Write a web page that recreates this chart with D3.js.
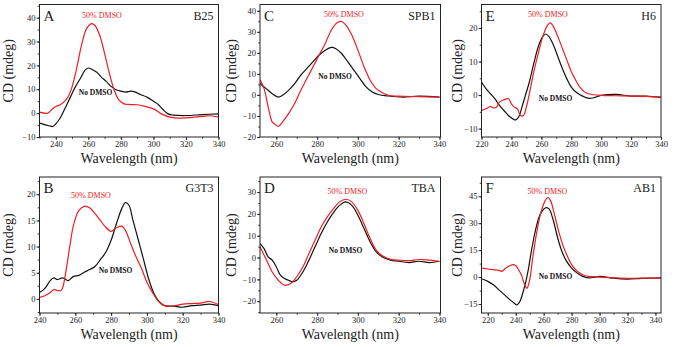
<!DOCTYPE html>
<html>
<head>
<meta charset="utf-8">
<script src="https://cdn.jsdelivr.net/npm/d3@7/dist/d3.min.js"></script>
<style>
body { margin: 0; background: #fff; }
svg text { font-family: "Liberation Serif", "Times New Roman", "DejaVu Serif", serif; }
</style>
</head>
<body>
<svg id="graph"></svg>
<script>
// CD spectra, [wavelength (nm), ellipticity (mdeg)]
var b25Dmso = [[230,0.4],[235,0],[238,1.8],[240,2.8],[243,3.6],[246,5.3],[248,7.4],[250,11],[253,19.3],[256,29],[259,35.5],[262,37.5],[264,36.8],[267,32.6],[270,25],[273,16.5],[276,9.5],[279,5.3],[282,3.9],[286,3.6],[290,3.5],[295,2.8],[300,1.8],[305,-0.3],[310,-1.7],[315,-2.1],[320,-2],[330,-1.4],[335,-1.1],[340,-1.7]];
var b25Water = [[230,-4.2],[233,-4.8],[236,-5.3],[238,-5.6],[240,-4.5],[243,-1.7],[246,2.5],[249,6.7],[252,11],[255,14.4],[258,18],[260,18.9],[262,18.4],[265,17.2],[268,15.1],[271,13.3],[274,11.2],[277,9.8],[280,9.2],[283,8.8],[286,9.2],[289,8.8],[292,7.8],[296,6.7],[300,5],[303,3.6],[306,1.4],[309,-0.3],[312,-0.8],[320,-1],[330,-0.6],[340,-0.3]];

var g3t3Dmso = [[240,0.3],[243,0.6],[246,1.2],[248,1.8],[250,1.6],[252,1.6],[253,2.2],[255,5.8],[257,10.2],[259,14.1],[262,16.9],[265,17.7],[268,17.4],[271,16.3],[274,15],[277,13.7],[280,12.9],[283,13.6],[286,13.9],[288,13.1],[291,10.5],[294,8],[297,5.8],[300,3.2],[303,1.3],[306,-0.3],[309,-1.2],[312,-1.4],[316,-1.3],[320,-1],[325,-0.9],[330,-0.8],[335,-0.5],[340,-1.1]];
var g3t3Water = [[240,1.2],[243,2],[246,3.5],[248,4],[250,3.7],[253,4],[256,3.5],[259,4.3],[262,4.5],[265,5.1],[268,5.6],[271,6.2],[274,7.5],[277,8.9],[280,11.2],[283,14.4],[286,17.3],[288,18.4],[290,17.9],[292,15.3],[295,11.5],[298,7.7],[301,3.8],[304,1],[307,-0.6],[310,-1.3],[315,-1.4],[320,-1.6],[325,-1.3],[330,-1.2],[335,-1],[340,-1.3]];

var spb1Dmso = [[252,7.3],[254,3],[256,-5.7],[258,-12.9],[259,-13.7],[261,-15],[263,-12.9],[266,-8.9],[269,-4.1],[272,2.2],[275,7.8],[278,13.4],[281,19],[284,24.5],[287,30.9],[290,34.4],[292,34.9],[294,33.3],[297,28.5],[300,21.3],[303,13.4],[306,7],[309,3],[312,1],[315,-0.2],[320,-0.6],[330,-0.8],[340,-1]];
var spb1Water = [[252,5.4],[254,3.8],[256,2.2],[258,0.6],[261,-1],[263,-0.2],[266,2.2],[269,5.4],[272,9.4],[275,12.6],[278,15.8],[281,19],[284,21.3],[287,22.6],[289,22.1],[292,19.7],[295,15.8],[298,11.8],[301,7.8],[304,3.8],[307,1.4],[310,0.2],[315,-0.5],[322,-1],[330,-0.6],[340,-1]];

var tbaDmso = [[252,4.9],[255,-0.8],[258,-6.6],[261,-10.4],[264,-12.7],[267,-11.9],[270,-8.8],[273,-4.3],[276,1.8],[279,7.9],[282,14],[285,18.6],[288,22.4],[291,25.5],[294,26.7],[297,25.5],[300,21.6],[303,15.5],[306,8.7],[309,3.4],[312,0.8],[316,-0.8],[320,-1.2],[325,-1.4],[330,-0.9],[335,-1.2],[340,-1.7]];
var tbaWater = [[252,6.4],[254,4.1],[256,0.3],[258,-1.2],[260,-4.3],[262,-8.1],[264,-9.6],[266,-10.4],[268,-11.1],[270,-10.4],[273,-6.6],[276,-1.2],[279,4.9],[282,11],[285,16.3],[288,20.6],[291,23.9],[294,25.5],[297,23.9],[300,19.4],[303,13.3],[306,7.2],[309,2.6],[312,0.3],[316,-1.2],[320,-1.7],[325,-2.3],[330,-1.7],[335,-2.3],[340,-1.7]];

var h6Dmso = [[220,-4.6],[223,-4.1],[226,-3.4],[228,-3.8],[230,-3.6],[232,-2.1],[235,-1.4],[238,-1.1],[240,-2.6],[242,-3.6],[244,-4.1],[246,-6.1],[248,-6.1],[250,-3.6],[252,0.4],[255,7],[258,12.5],[261,17.5],[264,20.7],[266,21.5],[268,20.5],[271,17.5],[274,14],[277,10.5],[280,7],[283,4.4],[286,2.2],[290,0.6],[295,0.1],[300,-0.1],[310,-0.2],[320,-0.3],[330,-0.4],[340,-0.6]];
var h6Water = [[220,3.9],[223,1.9],[226,0.4],[229,-1.1],[232,-3.1],[235,-4.6],[238,-6.1],[241,-7.1],[243,-7.4],[245,-6.4],[247,-3.6],[249,-0.6],[252,3.9],[255,9.5],[258,14.5],[261,17.5],[263,18.2],[265,17.5],[268,15],[271,11.5],[274,8],[277,4.9],[280,2.4],[284,0.6],[288,-0.4],[292,-1],[295,-0.8],[300,-0.1],[310,0.2],[320,-0.3],[330,-0.3],[340,-0.7]];

var ab1Dmso = [[216,5],[220,4.5],[224,4.1],[228,3.7],[230,3.2],[233,5],[236,6.4],[238,6.9],[240,6.4],[242,4.1],[244,1.3],[246,-3.4],[248,-6.2],[250,-1.5],[252,9.7],[255,24.7],[258,35.9],[261,42.4],[263,44.3],[265,42.4],[268,34],[271,24.7],[274,17.2],[277,11.6],[280,6.9],[284,3.2],[288,1.3],[292,0.4],[300,0],[310,-0.4],[320,-0.7],[330,-0.6],[344,-0.6]];
var ab1Water = [[216,-1.1],[220,-2.4],[224,-4.3],[228,-7.1],[232,-9.9],[236,-12.7],[239,-14.6],[241,-15.5],[243,-13.6],[245,-9],[247,-3.4],[249,4.1],[251,13.5],[254,25.6],[257,34],[260,37.8],[262,38.7],[264,37.8],[267,31.2],[270,21.9],[273,14.4],[276,9.3],[280,5],[284,2.2],[288,0.4],[292,-0.4],[296,-0.2],[300,0.4],[305,0],[310,-0.6],[320,-1.1],[330,-0.7],[344,-0.4]];

var panelLetters = ["A", "B", "C", "D", "E", "F"];
var sampleNames = ["B25", "G3T3", "SPB1", "TBA", "H6", "AB1"];
var dmsoLabel = "50% DMSO";
var waterLabel = "No DMSO";

var xTicksA = [240, 260, 280, 300, 320, 340];
var xTicksC = [260, 280, 300, 320, 340];
var xTicksE = [220, 240, 260, 280, 300, 320, 340];
var yTicksA = [-10, 0, 10, 20, 30, 40];
var yTicksB = [0, 5, 10, 15, 20];
var yTicksC = [-20, -10, 0, 10, 20, 30, 40];
var yTicksD = [-20, -10, 0, 10, 20, 30];
var yTicksE = [-10, 0, 10, 20];
var yTicksF = [-15, 0, 15, 30, 45];

var width = 681, height = 347;
var red = "#f01c22", black = "#111";
var serif = "'Liberation Serif', 'Times New Roman', 'DejaVu Serif', serif";

// frame boxes per column / row
var cols = [[39.5, 218.5], [260, 440.5], [481.5, 661]];
var rows = [[4.5, 137], [177, 313]];
var yTitleOffset = [31.5, 28.5, 24.5];

var panels = [
    {col: 0, row: 0, dmso: b25Dmso, water: b25Water, xDomain: [230, 340], yDomain: [-10, 45.5], xTicks: xTicksA, yTicks: yTicksA, yMinor: 5,
        dmsoAt: [102, 17.5], waterAt: [95.5, 95]},
    {col: 0, row: 1, dmso: g3t3Dmso, water: g3t3Water, xDomain: [240, 340], yDomain: [-2.7, 23.3], xTicks: xTicksA, yTicks: yTicksB, yMinor: 2.5,
        dmsoAt: [91, 198], waterAt: [115.5, 272.5]},
    {col: 1, row: 0, dmso: spb1Dmso, water: spb1Water, xDomain: [252, 340.5], yDomain: [-20, 43], xTicks: xTicksC, yTicks: yTicksC, yMinor: 5,
        dmsoAt: [344, 16.5], waterAt: [335, 78.5]},
    {col: 1, row: 1, dmso: tbaDmso, water: tbaWater, xDomain: [252, 340.5], yDomain: [-25.4, 36.9], xTicks: xTicksC, yTicks: yTicksD, yMinor: 5,
        dmsoAt: [347.5, 193.5], waterAt: [345.5, 252.5]},
    {col: 2, row: 0, dmso: h6Dmso, water: h6Water, xDomain: [220, 340], yDomain: [-12.5, 27], xTicks: xTicksE, yTicks: yTicksE, yMinor: 5,
        dmsoAt: [548, 17.3], waterAt: [555.5, 100.5]},
    {col: 2, row: 1, dmso: ab1Dmso, water: ab1Water, xDomain: [215.5, 344], yDomain: [-20, 55.7], xTicks: xTicksE, yTicks: yTicksF, yMinor: 7.5,
        dmsoAt: [547.5, 193.5], waterAt: [555.5, 278.5]}
];

var svg = d3.select("#graph")
    .attr("width", width)
    .attr("height", height);

panels.forEach(function (p, i) {
    var x0 = cols[p.col][0], x1 = cols[p.col][1];
    var y0 = rows[p.row][0], y1 = rows[p.row][1];

    var x = d3.scaleLinear().domain(p.xDomain).range([x0, x1]);
    var y = d3.scaleLinear().domain(p.yDomain).range([y1, y0]);

    var g = svg.append("g");

    // minor ticks first, majors over them
    var xMinor = d3.range(Math.ceil(p.xDomain[0] / 10) * 10, p.xDomain[1] + 0.01, 10);
    var yMinor = d3.range(Math.ceil(p.yDomain[0] / p.yMinor) * p.yMinor, p.yDomain[1] + 0.01, p.yMinor);

    g.append("g")
        .attr("transform", "translate(0," + y1 + ")")
        .call(d3.axisBottom(x).tickValues(xMinor).tickSize(1.8).tickFormat(""));
    g.append("g")
        .attr("transform", "translate(" + x0 + ",0)")
        .call(d3.axisLeft(y).tickValues(yMinor).tickSize(1.8).tickFormat(""));

    g.append("g")
        .attr("transform", "translate(0," + y1 + ")")
        .call(d3.axisBottom(x).tickValues(p.xTicks).tickSize(3).tickPadding(1.2));
    g.append("g")
        .attr("transform", "translate(" + x0 + ",0)")
        .call(d3.axisLeft(y).tickValues(p.yTicks).tickSize(3).tickPadding(1));

    g.selectAll(".domain").remove();
    g.selectAll(".tick line").attr("stroke", "#222").attr("stroke-width", 0.9);
    g.selectAll(".tick text")
        .attr("font-family", serif)
        .attr("font-size", 8.5)
        .attr("fill", "#222");

    // spectra
    var line = d3.line()
        .x(function (d) { return x(d[0]); })
        .y(function (d) { return y(d[1]); })
        .curve(d3.curveCatmullRom.alpha(0.5));

    var clipId = "clip" + i;
    g.append("clipPath").attr("id", clipId)
        .append("rect")
        .attr("x", x0).attr("y", y0)
        .attr("width", x1 - x0).attr("height", y1 - y0);

    g.append("path")
        .datum(p.water)
        .attr("clip-path", "url(#" + clipId + ")")
        .attr("fill", "none")
        .attr("stroke", black)
        .attr("stroke-width", 1.2)
        .attr("d", line);
    g.append("path")
        .datum(p.dmso)
        .attr("clip-path", "url(#" + clipId + ")")
        .attr("fill", "none")
        .attr("stroke", red)
        .attr("stroke-width", 1.2)
        .attr("d", line);

    // frame
    g.append("rect")
        .attr("x", x0).attr("y", y0)
        .attr("width", x1 - x0).attr("height", y1 - y0)
        .attr("fill", "none")
        .attr("stroke", "#222")
        .attr("stroke-width", 1);

    // axis titles
    g.append("text")
        .attr("x", (x0 + x1) / 2)
        .attr("y", y1 + 26)
        .attr("text-anchor", "middle")
        .attr("font-family", serif)
        .attr("font-size", 14)
        .attr("fill", "#222")
        .text("Wavelength (nm)");
    g.append("text")
        .attr("transform", "translate(" + (x0 - yTitleOffset[p.col]) + "," + ((y0 + y1) / 2) + ") rotate(-90)")
        .attr("dy", "0.35em")
        .attr("text-anchor", "middle")
        .attr("font-family", serif)
        .attr("font-size", 14)
        .attr("fill", "#222")
        .text("CD (mdeg)");

    // panel letter and sample name
    g.append("text")
        .attr("x", x0 + 4)
        .attr("y", y0 + 16)
        .attr("font-family", serif)
        .attr("font-size", 15)
        .attr("fill", "#222")
        .text(panelLetters[i]);
    g.append("text")
        .attr("x", x1 - 5)
        .attr("y", y0 + 15)
        .attr("text-anchor", "end")
        .attr("font-family", serif)
        .attr("font-size", 12)
        .attr("fill", "#222")
        .text(sampleNames[i]);

    // series labels
    g.append("text")
        .attr("x", p.dmsoAt[0])
        .attr("y", p.dmsoAt[1])
        .attr("text-anchor", "middle")
        .attr("font-family", serif)
        .attr("font-size", 8)
        .attr("fill", red)
        .text(dmsoLabel);
    g.append("text")
        .attr("x", p.waterAt[0])
        .attr("y", p.waterAt[1])
        .attr("text-anchor", "middle")
        .attr("font-family", serif)
        .attr("font-size", 7.5)
        .attr("font-weight", "bold")
        .attr("fill", black)
        .text(waterLabel);
});
</script>
</body>
</html>
